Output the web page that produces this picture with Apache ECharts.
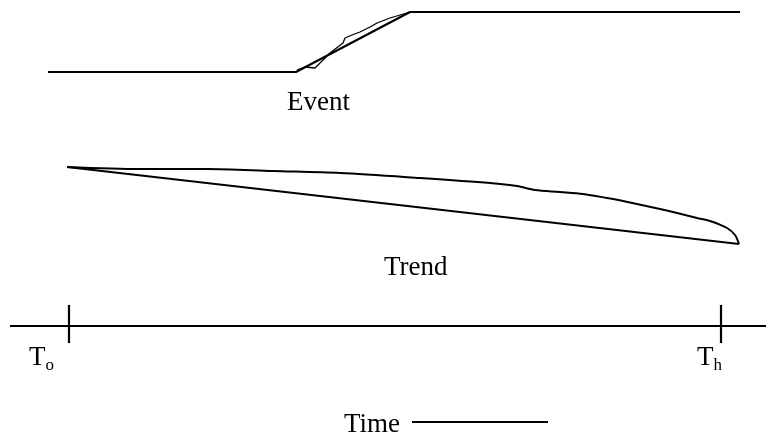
<!DOCTYPE html>
<html><head><meta charset="utf-8">
<script src="https://cdn.jsdelivr.net/npm/echarts@6/dist/echarts.min.js"></script>
<style>html,body{margin:0;padding:0;background:#fff}#c{width:766px;height:438px}</style>
</head><body><div id="c"></div>
<script>
// Event step (time, level)
const eventStep = [[48,72],[296,72],[410,12],[740,12]];
const eventRough = [[297,70],[305,67],[315,68],[330,53],[343,43],[345,38],[352,35],[360,32],[370,27],[377,23],[390,18],[400,15],[407,13],[412,12]];
// Trend
const trendUpper = [[67,167],[140,169],[207,169],[273,171],[340,173],[420,178],[490,183],[517,186],[535,190],[560,192],[583,194],[607,198],[623,201],[660,209],[673,212],[697,218],[710,221],[727,228],[735,235],[739,244]];
const trendLower = [[67,167],[739,244]];
// Time axis
const axisLine = [[10,326],[766,326]];
const tickTo = [[69,305],[69,343]];
const tickTh = [[721,305],[721,343]];
const timeArrow = [[412,422],[548,422]];
const labels = ['Event','Trend','T','o','h','Time'];

const chart = echarts.init(document.getElementById('c'));
const ln = (d, w, sm) => ({type:'line', data:d, symbol:'none', silent:true, smooth:sm||false,
  lineStyle:{color:'#000', width:w||2}, animation:false});
const serif = '"Liberation Serif","Times New Roman",serif';
const rich = {m:{font:'27px '+serif,color:'#000',verticalAlign:'bottom'},
              s:{font:'17px '+serif,color:'#000',verticalAlign:'bottom',padding:[0,0,-3,0]}};
chart.setOption({
  backgroundColor:'#fff',
  animation:false,
  grid:{left:0,right:0,top:0,bottom:0},
  xAxis:{type:'value',min:0,max:766,show:false},
  yAxis:{type:'value',min:0,max:438,inverse:true,show:false},
  series:[
    ln(eventStep,2.2), ln(eventRough,1.3),
    ln(trendUpper,2,0.3), ln(trendLower,2),
    ln(axisLine,2.2), ln(tickTo,2.2), ln(tickTh,2.2), ln(timeArrow,2.2)
  ],
  graphic:[
    {type:'text',left:287,top:89,style:{text:labels[0],font:'27px '+serif,fill:'#000'}},
    {type:'text',left:384,top:254,style:{text:labels[1],font:'27px '+serif,fill:'#000'}},
    {type:'text',left:29,top:344,style:{text:'{m|'+labels[2]+'}{s|'+labels[3]+'}',rich:rich}},
    {type:'text',left:697,top:344,style:{text:'{m|'+labels[2]+'}{s|'+labels[4]+'}',rich:rich}},
    {type:'text',left:344,top:411,style:{text:labels[5],font:'27px '+serif,fill:'#000'}}
  ]
});
</script></body></html>
